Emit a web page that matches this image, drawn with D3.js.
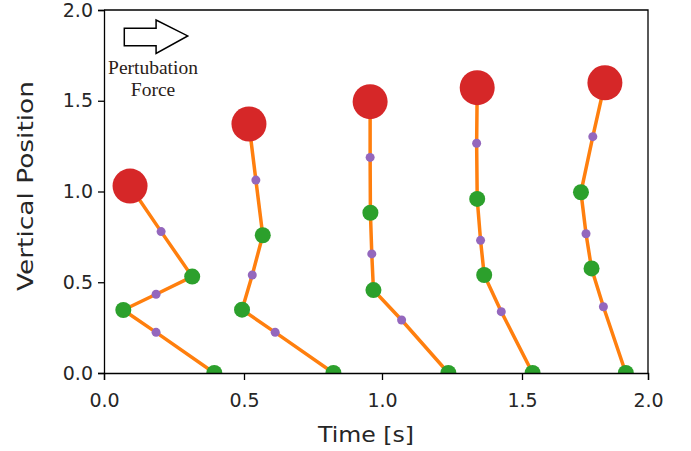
<!DOCTYPE html>
<html>
<head>
<meta charset="utf-8">
<script src="https://cdn.jsdelivr.net/npm/d3@7"></script>
<style>
  body { margin: 0; background: #fff; }
  svg { display: block; }
  text { font-family: "DejaVu Sans", sans-serif; }
</style>
</head>
<body>
<div id="chart"></div>
<script>
const lineColor = "#ff7f0e"
const jointColor = "#2ca02c"
const midColor = "#9467bd"
const headColor = "#d62728"

// five snapshots of the chain, listed from the head (top) down to the foot
const snap1X = [0.093, 0.204, 0.315, 0.186, 0.069, 0.186, 0.394]
const snap1Y = [1.030, 0.779, 0.531, 0.434, 0.347, 0.224, 0.0]
const snap2X = [0.518, 0.543, 0.568, 0.530, 0.493, 0.613, 0.824]
const snap2Y = [1.372, 1.063, 0.759, 0.540, 0.349, 0.224, 0.0]
const snap3X = [0.957, 0.957, 0.958, 0.963, 0.969, 1.070, 1.237]
const snap3Y = [1.495, 1.188, 0.883, 0.656, 0.457, 0.292, 0.0]
const snap4X = [1.340, 1.338, 1.340, 1.352, 1.365, 1.426, 1.542]
const snap4Y = [1.572, 1.266, 0.959, 0.731, 0.540, 0.338, 0.0]
const snap5X = [1.829, 1.781, 1.734, 1.754, 1.776, 1.823, 1.912]
const snap5Y = [1.599, 1.302, 0.996, 0.767, 0.576, 0.365, 0.0]

// what each point in a snapshot is
const pointKind = ["head", "mid", "joint", "mid", "joint", "mid", "joint"]

const xTicks = [0, 0.5, 1.0, 1.5, 2.0]
const yTicks = [0, 0.5, 1.0, 1.5, 2.0]

// annotation (arrow outline + label), in data units
const arrowX = [0.0725, 0.186, 0.186, 0.299, 0.186, 0.186, 0.0725]
const arrowY = [1.899, 1.899, 1.945, 1.857, 1.761, 1.803, 1.803]
const noteLines = ["Pertubation", "Force"]

function drawChart() {
    const margin = { top: 10, right: 43, bottom: 78, left: 104 };
    const width = 691 - margin.left - margin.right;
    const height = 451 - margin.top - margin.bottom;

    const svg = d3.select("#chart")
        .append("svg")
        .attr("width", 691)
        .attr("height", 451)
        .append("g")
        .attr("transform", "translate(" + margin.left + "," + margin.top + ")");

    // the picture's x axis is not evenly spaced, so map tick by tick
    const x = d3.scaleLinear()
        .domain(xTicks)
        .range([0, 140, 278, 418, width]);

    const y = d3.scaleLinear()
        .domain([0, 2])
        .range([height, 0]);

    svg.append("clipPath")
        .attr("id", "plot-clip")
        .append("rect")
        .attr("width", width)
        .attr("height", height);

    const snaps = [
        [snap1X, snap1Y], [snap2X, snap2Y], [snap3X, snap3Y], [snap4X, snap4Y], [snap5X, snap5Y]
    ].map(([xs, ys]) => xs.map((v, i) => ({ x: v, y: ys[i], kind: pointKind[i] })));

    const marks = svg.append("g").attr("clip-path", "url(#plot-clip)");

    const line = d3.line()
        .x(d => x(d.x))
        .y(d => y(d.y));

    marks.selectAll(".chain")
        .data(snaps)
        .enter()
        .append("path")
        .attr("class", "chain")
        .attr("d", line)
        .attr("fill", "none")
        .attr("stroke", lineColor)
        .attr("stroke-width", 3.5)
        .attr("stroke-linejoin", "round");

    const allPoints = snaps.flat();
    const order = { mid: 0, joint: 1, head: 2 };
    const radius = { mid: 4.5, joint: 8, head: 17.5 };
    const fill = { mid: midColor, joint: jointColor, head: headColor };

    marks.selectAll(".pt")
        .data(allPoints.slice().sort((a, b) => order[a.kind] - order[b.kind]))
        .enter()
        .append("circle")
        .attr("class", "pt")
        .attr("cx", d => x(d.x))
        .attr("cy", d => y(d.y))
        .attr("r", d => radius[d.kind])
        .attr("fill", d => fill[d.kind]);

    // axes
    const xAxis = svg.append("g")
        .attr("transform", "translate(0," + height + ")")
        .call(d3.axisBottom(x).tickValues(xTicks).tickFormat(d3.format(".1f")).tickSize(7).tickPadding(14));

    const yAxis = svg.append("g")
        .call(d3.axisLeft(y).tickValues(yTicks).tickFormat(d3.format(".1f")).tickSize(6).tickPadding(5));

    [xAxis, yAxis].forEach(a => {
        a.selectAll("path, line").attr("stroke", "#000").attr("stroke-width", 1.3);
        a.selectAll("text").attr("fill", "#262626").style("font-size", "19px");
    });

    // top and right spines
    svg.append("path")
        .attr("d", "M0,0H" + width + "V" + height)
        .attr("fill", "none")
        .attr("stroke", "#000")
        .attr("stroke-width", 1.3);

    svg.append("text")
        .attr("x", 262)
        .attr("y", height + 69)
        .attr("text-anchor", "middle")
        .style("font-size", "21px")
        .attr("textLength", 96)
        .attr("lengthAdjust", "spacingAndGlyphs")
        .attr("fill", "#262626")
        .text("Time [s]");

    svg.append("text")
        .attr("transform", "translate(" + (-71) + "," + (176) + ") rotate(-90)")
        .attr("text-anchor", "middle")
        .style("font-size", "21px")
        .attr("textLength", 210)
        .attr("lengthAdjust", "spacingAndGlyphs")
        .attr("fill", "#262626")
        .text("Vertical Position");

    // perturbation arrow
    svg.append("path")
        .attr("d", d3.line()(arrowX.map((v, i) => [x(v), y(arrowY[i])])) + "Z")
        .attr("fill", "#fff")
        .attr("stroke", "#000")
        .attr("stroke-width", 1.5);

    svg.selectAll(".note")
        .data(noteLines)
        .enter()
        .append("text")
        .attr("class", "note")
        .attr("x", x(0.175))
        .attr("y", (d, i) => y(1.647) + i * 22)
        .attr("text-anchor", "middle")
        .style("font-family", "'Liberation Serif', serif")
        .style("font-size", "19.5px")
        .attr("fill", "#2a2118")
        .text(d => d);
}

drawChart();
</script>
</body>
</html>
